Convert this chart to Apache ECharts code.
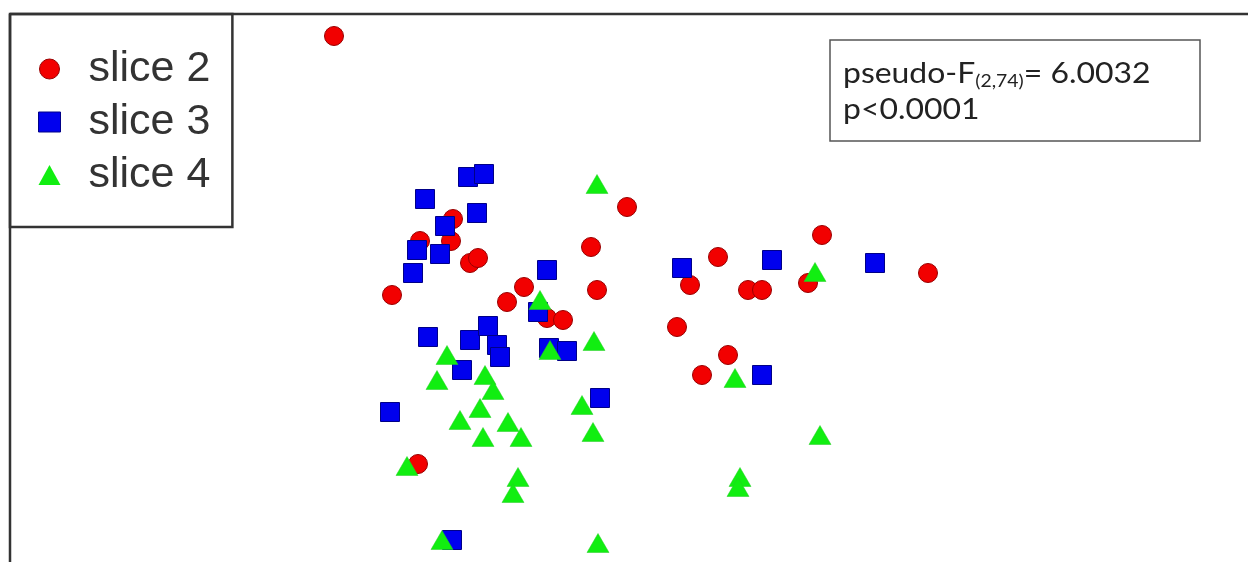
<!DOCTYPE html>
<html>
<head>
<meta charset="utf-8">
<script src="https://cdn.jsdelivr.net/npm/echarts@6/dist/echarts.min.js"></script>
<style>html,body{margin:0;padding:0;background:#fff;}#c{width:1248px;height:562px;}</style>
</head>
<body>
<div id="c"></div>
<script>
// Ordination scores (MDS1, MDS2)
const seriesNames = ['slice 2', 'slice 3', 'slice 4'];
const slice2 = [
  [-2.66, 2.64], [-1.47, 0.81], [-1.80, 0.59], [-1.49, 0.59], [-1.30, 0.37],
  [-1.22, 0.42], [-2.08, 0.05], [0.27, 0.93], [-0.09, 0.53], [-0.03, 0.10],
  [-0.76, 0.13], [-0.93, -0.02], [-0.53, -0.18], [-0.37, -0.20], [2.22, 0.65],
  [1.18, 0.43], [3.28, 0.27], [0.90, 0.15], [1.48, 0.10], [1.62, 0.10],
  [2.08, 0.17], [0.77, -0.27], [1.28, -0.55], [1.02, -0.75], [-1.82, -1.64]
];
const slice3 = [
  [-1.32, 1.23], [-1.16, 1.26], [-1.75, 1.01], [-1.23, 0.87], [-1.55, 0.74],
  [-1.83, 0.50], [-1.60, 0.46], [-1.87, 0.27], [-0.53, 0.30], [-0.62, -0.12],
  [-1.72, -0.37], [-1.30, -0.40], [-1.12, -0.26], [-1.03, -0.45], [-1.00, -0.57],
  [-0.51, -0.48], [-0.33, -0.51], [-1.38, -0.70], [-2.10, -1.12], [0.00, -0.98],
  [-1.48, -2.40], [0.82, 0.32], [1.72, 0.40], [2.75, 0.37], [1.62, -0.75]
];
const slice4 = [
  [-0.03, 1.16], [-0.60, 0.00], [-0.06, -0.41], [-0.50, -0.50], [-1.53, -0.55],
  [-1.63, -0.80], [-1.15, -0.75], [-1.07, -0.90], [-1.20, -1.08], [-1.40, -1.20],
  [-0.92, -1.22], [-0.79, -1.37], [-1.17, -1.37], [-1.93, -1.66], [-0.82, -1.77],
  [-0.87, -1.93], [-1.58, -2.40], [-0.02, -2.43], [-0.18, -1.05], [-0.07, -1.32],
  [2.15, 0.28], [1.35, -0.78], [2.20, -1.35], [1.40, -1.77], [1.38, -1.87]
];
const statLine1 = ['pseudo-F', '(2,74)', '= 6.0032'];
const statLine2 = 'p<0.0001';

const chart = echarts.init(document.getElementById('c'), null, {renderer: 'canvas'});
chart.setOption({
  animation: false,
  backgroundColor: '#ffffff',
  grid: {left: 0, top: 0, right: 0, bottom: 0, show: false},
  xAxis: {type: 'value', min: -6, max: 6.48, show: false, splitLine: {show: false}},
  yAxis: {type: 'value', min: -2.62, max: 3.0, show: false, splitLine: {show: false}},
  legend: {
    orient: 'vertical', left: 10, top: 14,
    padding: [30, 22, 27, 28],
    itemGap: 3, itemWidth: 22, itemHeight: 20,
    backgroundColor: '#ffffff', borderColor: '#333333', borderWidth: 2.5,
    selectedMode: false,
    textStyle: {fontFamily: 'Liberation Sans', fontSize: 43, color: '#333333', lineHeight: 50, padding: [0, 0, 0, 23]},
    data: [
      {name: seriesNames[0], icon: 'circle', itemStyle: {color: '#f20000', borderColor: '#990000', borderWidth: 1}},
      {name: seriesNames[1], icon: 'rect', itemStyle: {color: '#0000ee', borderColor: '#000088', borderWidth: 1}},
      {name: seriesNames[2], icon: 'triangle', itemStyle: {color: '#11ee11', borderWidth: 0}}
    ]
  },
  series: [
    {name: seriesNames[0], type: 'scatter', data: slice2, symbol: 'circle', symbolSize: 19,
      itemStyle: {color: '#f20000', borderColor: '#990000', borderWidth: 1, opacity: 1}},
    {name: seriesNames[1], type: 'scatter', data: slice3, symbol: 'rect', symbolSize: 19,
      itemStyle: {color: '#0000ee', borderColor: '#000088', borderWidth: 1, opacity: 1}},
    {name: seriesNames[2], type: 'scatter', data: slice4, symbol: 'triangle', symbolSize: [22, 19],
      itemStyle: {color: '#11ee11', borderColor: '#22cc22', borderWidth: 0.5, opacity: 1}}
  ],
  graphic: [
    {type: 'line', shape: {x1: 10, y1: 14, x2: 1248, y2: 14}, style: {stroke: '#333333', lineWidth: 2.5}, z: 50},
    {type: 'line', shape: {x1: 10, y1: 14, x2: 10, y2: 562}, style: {stroke: '#333333', lineWidth: 2.5}, z: 50},
    {type: 'rect', shape: {x: 830, y: 40, width: 370, height: 101},
      style: {fill: '#ffffff', stroke: '#555555', lineWidth: 1.5}, z: 100},
    {type: 'text', x: 843, y: 56, scaleX: 1.14, z: 101,
      style: {
        text: '{a|' + statLine1[0] + '}{s|' + statLine1[1] + '}{a|' + statLine1[2] + '}\n{a|' + statLine2 + '}',
        rich: {
          a: {fontFamily: 'Lato', fontSize: 28, fill: '#222222', lineHeight: 36},
          s: {fontFamily: 'Lato', fontSize: 17, fill: '#222222', lineHeight: 36, padding: [15, 0, 0, 0]}
        }
      }}
  ]
});
</script>
</body>
</html>
